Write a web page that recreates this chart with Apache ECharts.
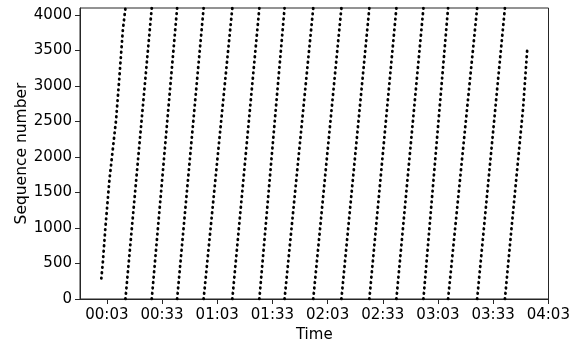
<!DOCTYPE html>
<html>
<head>
<meta charset="utf-8">
<script src="https://cdn.jsdelivr.net/npm/echarts@6/dist/echarts.min.js"></script>
<style>
  html, body { margin: 0; padding: 0; background: #fff; }
  #chart { width: 571px; height: 342px; }
</style>
</head>
<body>
<div id="chart"></div>
<script>
// Packet arrival time (seconds) against its 12-bit sequence number.
// The counter wraps at 4096, so the trace is a run of rising ramps.

// First (partial) ramp: [time, sequence]
const firstRamp = [[0, 290], [0.8, 510], [2.1, 970], [4.4, 1680], [8.0, 2520], [9.7, 3085], [11.7, 3790], [13.1, 4095]];
// Times at which the counter wrapped back to 0
const wrapTimes = [13.1, 27.4, 41.2, 55.6, 71.2, 85.9, 99.6, 115.2, 130.5, 145.7, 160.4, 175.1, 188.5, 204.3, 219.4];
// Last (partial) ramp: [time, sequence]
const lastRamp = [[219.4, 0], [222.9, 970], [229.3, 2690], [231.5, 3500]];
const seqMax = 4095;

// Axis ticks
const xTickValues = [3, 33, 63, 93, 123, 153, 183, 213, 243];
const xTickLabels = ['00:03', '00:33', '01:03', '01:33', '02:03', '02:33', '03:03', '03:33', '04:03'];
const yTickValues = [0, 500, 1000, 1500, 2000, 2500, 3000, 3500, 4000];

// Each full ramp climbs from 0 at one wrap to the top at the next wrap
const ramps = [firstRamp];
for (let i = 0; i + 1 < wrapTimes.length; i++) {
  ramps.push([[wrapTimes[i], 0], [wrapTimes[i + 1], seqMax]]);
}
ramps.push(lastRamp);

const font = 'DejaVu Sans';
const axisColor = '#262626';
const labelStyle = { color: '#000', fontSize: 15, fontFamily: font };

const chart = echarts.init(document.getElementById('chart'), null, { renderer: 'canvas' });
chart.setOption({
  animation: false,
  backgroundColor: '#fff',
  grid: {
    left: 80, right: 22.5, top: 8, bottom: 43,
    outerBoundsMode: 'none',
    show: true, borderColor: axisColor, borderWidth: 1
  },
  xAxis: {
    type: 'value',
    min: -11.6,
    max: 243.1,
    name: 'Time',
    nameLocation: 'middle',
    nameGap: 29,
    nameMoveOverlap: false,
    nameTextStyle: labelStyle,
    axisLine: { show: true, onZero: false, lineStyle: { color: axisColor, width: 1 } },
    axisTick: { show: true, length: 5, customValues: xTickValues, lineStyle: { color: axisColor } },
    axisLabel: Object.assign({
      customValues: xTickValues,
      margin: 9,
      formatter: v => xTickLabels[xTickValues.indexOf(v)] ?? ''
    }, labelStyle),
    splitLine: { show: false }
  },
  yAxis: {
    type: 'value',
    min: 0,
    max: 4096,
    name: 'Sequence number',
    nameLocation: 'middle',
    nameGap: 50,
    nameMoveOverlap: false,
    nameTextStyle: Object.assign({}, labelStyle, { fontSize: 15.5 }),
    axisLine: { show: true, onZero: false, lineStyle: { color: axisColor, width: 1 } },
    axisTick: { show: true, length: 5, customValues: yTickValues, lineStyle: { color: axisColor } },
    axisLabel: Object.assign({ customValues: yTickValues, margin: 8, formatter: v => String(v) }, labelStyle),
    splitLine: { show: false }
  },
  series: ramps.map(r => ({
    type: 'line',
    data: r,
    showSymbol: false,
    silent: true,
    clip: true,
    lineStyle: { color: '#000', width: 2.8, type: [0.6, 4.8], cap: 'round' }
  }))
});
</script>
</body>
</html>
